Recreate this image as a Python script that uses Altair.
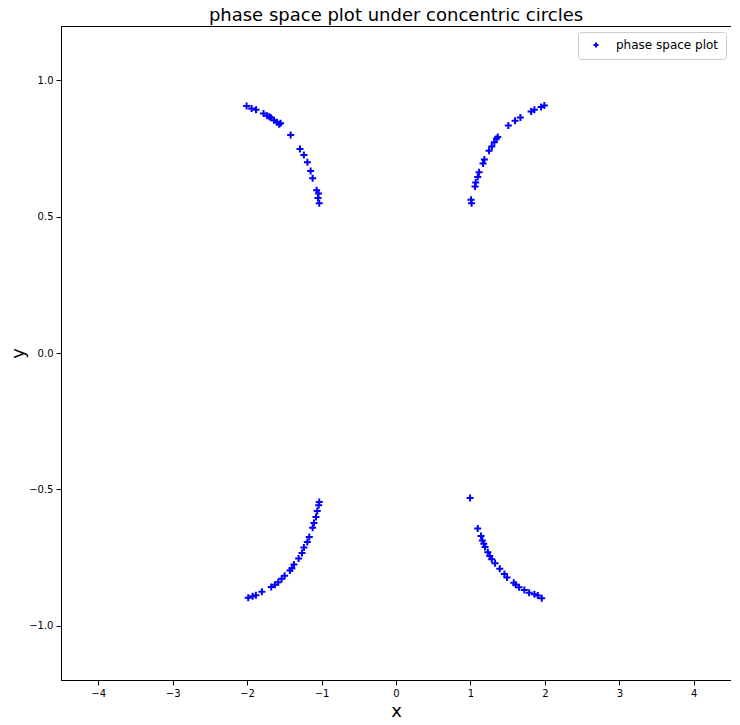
import altair as alt
import pandas as pd

# top-left arc
tl_x = [-2.007, -1.94, -1.88, -1.78, -1.73, -1.68, -1.64, -1.60, -1.57, -1.415,
        -1.29, -1.237, -1.19, -1.147, -1.12, -1.066, -1.048, -1.031, -1.04, -1.55, -1.70]
tl_y = [0.906, 0.897, 0.893, 0.879, 0.871, 0.863, 0.854, 0.847, 0.839, 0.800,
        0.749, 0.727, 0.700, 0.668, 0.641, 0.597, 0.569, 0.550, 0.585, 0.843, 0.867]
# top-right arc
tr_x = [1.008, 1.015, 1.062, 1.071, 1.098, 1.116, 1.169, 1.187, 1.25, 1.286, 1.321,
        1.348, 1.367, 1.509, 1.599, 1.671, 1.815, 1.859, 1.949, 1.993]
tr_y = [0.5625, 0.550, 0.611, 0.626, 0.646, 0.663, 0.695, 0.710, 0.742, 0.758, 0.773,
        0.786, 0.793, 0.835, 0.852, 0.864, 0.886, 0.893, 0.903, 0.908]
# bottom-left arc
bl_x = [-1.031, -1.039, -1.058, -1.075, -1.102, -1.120, -1.165, -1.192, -1.237, -1.263,
        -1.308, -1.371, -1.398, -1.425, -1.496, -1.536, -1.582, -1.626, -1.676, -1.801,
        -1.882, -1.926, -1.985]
bl_y = [-0.547, -0.559, -0.580, -0.602, -0.624, -0.641, -0.675, -0.694, -0.714, -0.734,
        -0.754, -0.776, -0.790, -0.798, -0.817, -0.828, -0.841, -0.850, -0.859, -0.876,
        -0.889, -0.893, -0.898]
# bottom-right arc
br_x = [0.995, 1.098, 1.142, 1.160, 1.179, 1.196, 1.233, 1.259, 1.286, 1.331, 1.394,
        1.456, 1.492, 1.582, 1.609, 1.653, 1.724, 1.788, 1.859, 1.905, 1.958]
br_y = [-0.532, -0.644, -0.672, -0.688, -0.700, -0.712, -0.731, -0.745, -0.757, -0.772,
        -0.792, -0.811, -0.824, -0.843, -0.850, -0.860, -0.870, -0.880, -0.885, -0.890,
        -0.900]

xs = tl_x + tr_x + bl_x + br_x
ys = tl_y + tr_y + bl_y + br_y
df = pd.DataFrame({"x": xs, "y": ys, "series": ["phase space plot"] * len(xs)})

plus = "M-1,0L1,0M0,-1L0,1"
FONT = "DejaVu Sans"

chart = alt.Chart(df).mark_point(shape=plus, filled=False, strokeWidth=2, size=49, opacity=1).encode(
    x=alt.X("x:Q", scale=alt.Scale(domain=[-4.5, 4.5], nice=False, zero=False),
            axis=alt.Axis(title="x", values=[-4, -3, -2, -1, 0, 1, 2, 3, 4], format="d")),
    y=alt.Y("y:Q", scale=alt.Scale(domain=[-1.2, 1.2], nice=False, zero=False),
            axis=alt.Axis(title="y", values=[-1.0, -0.5, 0.0, 0.5, 1.0], format=".1f")),
    color=alt.Color("series:N", scale=alt.Scale(range=["#0000ff"]),
                    legend=alt.Legend(title=None, orient="none", legendX=517, legendY=6,
                                      symbolType=plus, symbolStrokeWidth=2, symbolSize=25,
                                      symbolOffset=5,
                                      labelFontSize=12, labelFont=FONT, labelColor="black",
                                      labelOffset=14, padding=7, fillColor="white",
                                      strokeColor="#cccccc", cornerRadius=3,
                                      symbolFillColor="transparent")),
).properties(
    width=670, height=654,
    title=alt.TitleParams("phase space plot under concentric circles", fontSize=18,
                          font=FONT, fontWeight="normal", color="black", offset=1),
    autosize=alt.AutoSizeParams(type="none"),
    padding={"left": 53, "top": 18, "right": 0, "bottom": 37},
).configure_view(
    stroke="black", strokeWidth=1
).configure_axis(
    grid=False, domainColor="black", tickColor="black", labelColor="black",
    labelFont=FONT, labelFontSize=10, titleFont=FONT, titleFontSize=18,
    titleFontWeight="normal", titleColor="black", tickSize=5, labelPadding=3,
).configure_axisY(titlePadding=1).configure_axisX(titlePadding=4)

chart.save("out.html", embed_options={"renderer": "svg", "actions": False})
